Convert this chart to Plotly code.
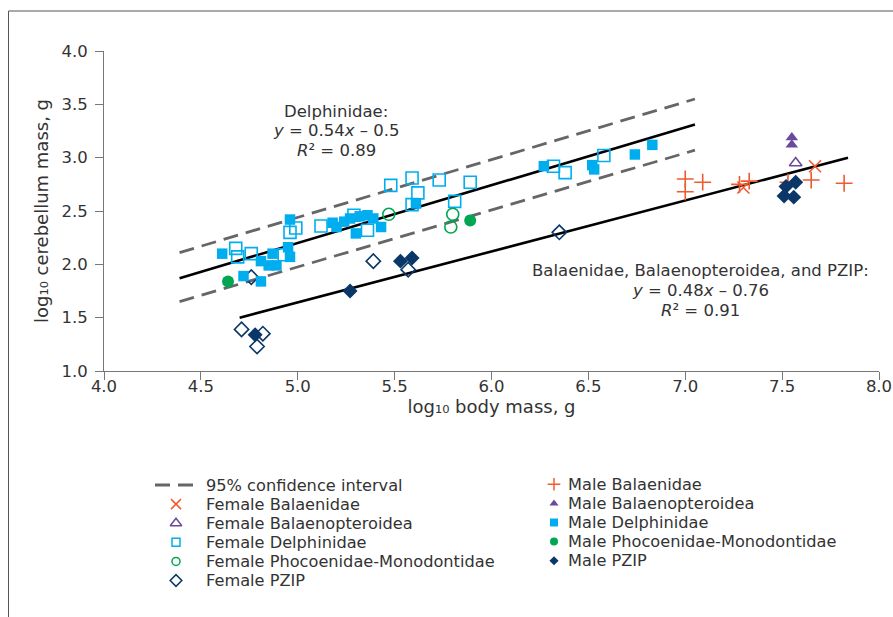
import plotly.graph_objects as go

# ---------------- data ----------------
# regression lines (end points) and 95% confidence band for Delphinidae
delph_fit_x = [4.39, 7.05]
delph_fit_y = [1.87, 3.31]
delph_ci_upper_y = [2.11, 3.55]
delph_ci_lower_y = [1.65, 3.07]
baleen_fit_x = [4.70, 7.84]
baleen_fit_y = [1.50, 3.00]

female_balaenidae_x = [7.30, 7.67]
female_balaenidae_y = [2.72, 2.92]
male_balaenidae_x = [7.00, 7.00, 7.09, 7.28, 7.33, 7.53, 7.65, 7.82]
male_balaenidae_y = [2.80, 2.68, 2.77, 2.75, 2.78, 2.77, 2.79, 2.76]

female_balaenopteroidea_x = [7.57]
female_balaenopteroidea_y = [2.95]
male_balaenopteroidea_x = [7.55, 7.55]
male_balaenopteroidea_y = [3.19, 3.12]

female_delphinidae_x = [4.68, 4.69, 4.76, 4.93, 4.96, 4.99, 5.12, 5.29, 5.36,
                        5.48, 5.59, 5.62, 5.59, 5.73, 5.81, 5.89, 6.32, 6.38, 6.58]
female_delphinidae_y = [2.15, 2.07, 2.10, 2.09, 2.30, 2.34, 2.36, 2.46, 2.32,
                        2.74, 2.81, 2.67, 2.56, 2.79, 2.59, 2.77, 2.92, 2.86, 3.02]
male_delphinidae_x = [4.61, 4.72, 4.81, 4.81, 4.85, 4.87, 4.89, 4.96, 4.95, 4.96,
                      5.18, 5.20, 5.24, 5.27, 5.30, 5.32, 5.36, 5.39, 5.43, 5.61,
                      6.27, 6.52, 6.53, 6.74, 6.83]
male_delphinidae_y = [2.10, 1.89, 1.84, 2.03, 1.99, 2.10, 1.99, 2.42, 2.16, 2.07,
                      2.39, 2.35, 2.40, 2.43, 2.29, 2.45, 2.46, 2.43, 2.35, 2.57,
                      2.92, 2.93, 2.89, 3.03, 3.12]

female_phocoenidae_x = [5.47, 5.80, 5.79]
female_phocoenidae_y = [2.47, 2.47, 2.35]
male_phocoenidae_x = [4.64, 5.89]
male_phocoenidae_y = [1.84, 2.41]

female_pzip_x = [4.71, 4.79, 4.82, 4.76, 5.39, 5.57, 6.35]
female_pzip_y = [1.39, 1.23, 1.35, 1.88, 2.03, 1.95, 2.30]
male_pzip_x = [4.78, 5.27, 5.53, 5.59, 7.52, 7.57, 7.51, 7.56]
male_pzip_y = [1.34, 1.75, 2.03, 2.06, 2.73, 2.77, 2.64, 2.63]

x_ticks = [4.0, 4.5, 5.0, 5.5, 6.0, 6.5, 7.0, 7.5, 8.0]
y_ticks = [1.0, 1.5, 2.0, 2.5, 3.0, 3.5, 4.0]

x_title = "log₁₀ body mass, g"
y_title = "log₁₀ cerebellum mass, g"
ci_label = "95% confidence interval"
delph_eq_lines = ["Delphinidae:", "<i>y</i> = 0.54<i>x</i> – 0.5", "<i>R</i>² = 0.89"]
baleen_eq_lines = ["Balaenidae, Balaenopteroidea, and PZIP:", "<i>y</i> = 0.48<i>x</i> – 0.76",
                   "<i>R</i>² = 0.91"]

# ---------------- styles ----------------
ORANGE = "#ef5a2f"
PURPLE = "#6c4a9b"
BLUE = "#00aeef"
GREEN = "#00a651"
NAVY = "#0a3668"
GREY = "#666666"
AXIS = "#777777"
TEXT = "#333333"
FONT = "DejaVu Sans"

series = [
    # name, x, y, symbol, color, size, line width, legend size
    ("Female Balaenidae", female_balaenidae_x, female_balaenidae_y, "x-thin-open", ORANGE, 12, 1.6, 10),
    ("Female Balaenopteroidea", female_balaenopteroidea_x, female_balaenopteroidea_y, "triangle-up-open", PURPLE, 11, 1.6, 10),
    ("Female Delphinidae", female_delphinidae_x, female_delphinidae_y, "square-open", BLUE, 12, 1.6, 8),
    ("Female Phocoenidae-Monodontidae", female_phocoenidae_x, female_phocoenidae_y, "circle-open", GREEN, 12, 1.6, 8),
    ("Female PZIP", female_pzip_x, female_pzip_y, "diamond-open", NAVY, 11, 1.6, 9),
    ("Male Balaenidae", male_balaenidae_x, male_balaenidae_y, "cross-thin-open", ORANGE, 12, 1.6, 9),
    ("Male Balaenopteroidea", male_balaenopteroidea_x, male_balaenopteroidea_y, "triangle-up", PURPLE, 11, 0, 8),
    ("Male Delphinidae", male_delphinidae_x, male_delphinidae_y, "square", BLUE, 10.5, 0, 8),
    ("Male Phocoenidae-Monodontidae", male_phocoenidae_x, male_phocoenidae_y, "circle", GREEN, 12, 0, 8),
    ("Male PZIP", male_pzip_x, male_pzip_y, "diamond", NAVY, 11.5, 0, 7),
]

fig = go.Figure()

dash = dict(color=GREY, width=2.8, dash="15px,8px")
fig.add_trace(go.Scatter(x=delph_fit_x, y=delph_ci_upper_y, mode="lines", line=dash, showlegend=False))
fig.add_trace(go.Scatter(x=delph_fit_x, y=delph_ci_lower_y, mode="lines", line=dash, showlegend=False))
fig.add_trace(go.Scatter(x=delph_fit_x, y=delph_fit_y, mode="lines",
                         line=dict(color="black", width=2.6), showlegend=False))
fig.add_trace(go.Scatter(x=baleen_fit_x, y=baleen_fit_y, mode="lines",
                         line=dict(color="black", width=2.6), showlegend=False))

for name, xs, ys, sym, col, size, lw, _ in series:
    fig.add_trace(go.Scatter(
        x=xs, y=ys, mode="markers", name=name, showlegend=False,
        marker=dict(symbol=sym, color=col, size=size, line=dict(width=lw, color=col))))

# ---------------- geometry (page pixels) ----------------
W, H = 893, 617
L, R, T, B = 104, 14, 51, 0
X0, X1, Y0, Y1 = 4.0, 8.0, 1.0, 4.0
plot_w = W - L - R
plot_h = H - T - B
x_axis_px = 371
y_main_dom0 = (H - B - x_axis_px) / plot_h
leg_dom1 = 0.40
leg_top_px = (H - B) - leg_dom1 * plot_h


def px_to_x(px):
    return X0 + (px - L) / plot_w * (X1 - X0)


def px_to_y(py):
    return Y1 - (py - T) / (x_axis_px - T) * (Y1 - Y0)


# manual legend (pixel axis x2/y2)
left_mark_x, left_text_x = 176, 204
right_mark_x, right_text_x = 554, 566
left_rows = [485, 504.1, 523.2, 542.3, 561.4, 580.5]
right_rows = [484.3, 503.4, 522.5, 541.6, 560.7]
LEG_SIZE = 16.2
EQ_SIZE = 16.5

fig.add_trace(go.Scatter(x=[155, 195], y=[left_rows[0], left_rows[0]], mode="lines",
                         xaxis="x2", yaxis="y2", line=dash, showlegend=False, hoverinfo="skip"))
annotations = [dict(x=left_text_x, y=left_rows[0], xref="x2", yref="y2", xanchor="left",
                    yanchor="middle", text=ci_label, showarrow=False,
                    font=dict(family=FONT, size=LEG_SIZE, color=TEXT))]
for i, (name, xs, ys, sym, col, size, lw, lsize) in enumerate(series):
    if i < 5:
        mx, tx, ry = left_mark_x, left_text_x, left_rows[i + 1]
    else:
        mx, tx, ry = right_mark_x, right_text_x, right_rows[i - 5]
    fig.add_trace(go.Scatter(x=[mx], y=[ry], mode="markers", xaxis="x2", yaxis="y2",
                             showlegend=False, hoverinfo="skip",
                             marker=dict(symbol=sym, color=col, size=lsize,
                                         line=dict(width=1.5 if lw else 0, color=col))))
    annotations.append(dict(x=tx, y=ry, xref="x2", yref="y2", xanchor="left", yanchor="middle",
                            text=name, showarrow=False,
                            font=dict(family=FONT, size=LEG_SIZE, color=TEXT)))

# equations, one annotation per line
for lines, cx, rows in [(delph_eq_lines, 336, [111, 130.5, 150]),
                        (baleen_eq_lines, 700, [270, 290, 310])]:
    for t, ry in zip(lines, rows):
        annotations.append(dict(x=px_to_x(cx), y=px_to_y(ry), xref="x", yref="y",
                                showarrow=False, xanchor="center", yanchor="middle", text=t,
                                font=dict(family=FONT, size=EQ_SIZE, color=TEXT)))

# outer frame (open on the right and bottom, as in the reference)
shapes = [dict(type="rect", xref="paper", yref="paper",
               x0=(8.5 - L) / plot_w, x1=(W + 20 - L) / plot_w,
               y0=-0.05, y1=(H - B - 11) / plot_h,
               line=dict(color="#555555", width=1), fillcolor="rgba(0,0,0,0)", layer="below")]

fig.update_layout(
    width=W, height=H,
    margin=dict(l=L, r=R, t=T, b=B, autoexpand=False),
    paper_bgcolor="white", plot_bgcolor="white",
    font=dict(family=FONT, color=TEXT),
    showlegend=False,
    xaxis=dict(range=[X0, X1], tickvals=x_ticks, ticktext=[f"{v:.1f}" for v in x_ticks],
               showgrid=False, zeroline=False, showline=True, linecolor=AXIS, linewidth=1,
               ticks="outside", ticklen=8, tickcolor=AXIS, ticklabelstandoff=-8,
               tickfont=dict(family=FONT, size=16.5, color=TEXT),
               title=dict(text=x_title, standoff=0,
                          font=dict(family=FONT, size=18, color=TEXT)),
               anchor="y", automargin=False),
    yaxis=dict(range=[Y0, Y1], tickvals=y_ticks, ticktext=[f"{v:.1f}" for v in y_ticks],
               domain=[y_main_dom0, 1],
               showgrid=False, zeroline=False, showline=True, linecolor=AXIS, linewidth=1,
               ticks="outside", ticklen=8, tickcolor=AXIS, ticklabelstandoff=4,
               tickfont=dict(family=FONT, size=16.5, color=TEXT),
               title=dict(text=y_title, standoff=8,
                          font=dict(family=FONT, size=18, color=TEXT)),
               anchor="x", automargin=False),
    xaxis2=dict(domain=[0, 1], range=[L, W - R], visible=False, anchor="y2", fixedrange=True),
    yaxis2=dict(domain=[0, leg_dom1], range=[H - B, leg_top_px], visible=False, anchor="x2",
                fixedrange=True),
    annotations=annotations,
    shapes=shapes,
)

# remove the default 8px page margin so the figure fills the 893x617 window exactly
fig.write_html("out.html", config={"displayModeBar": False},
               post_script="document.body.style.margin='0';document.body.style.overflow='hidden';")
